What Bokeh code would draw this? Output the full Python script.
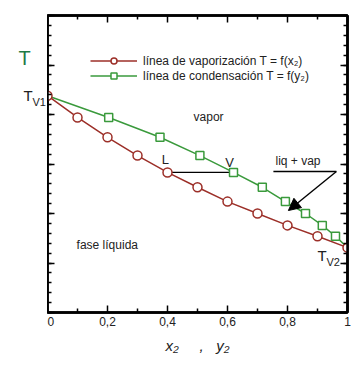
from bokeh.plotting import figure
from bokeh.layouts import row
from bokeh.models import (Range1d, FixedTicker, LinearAxis, Label, Arrow, NormalHead,
                          Legend, LegendItem)
from bokeh.core.properties import value
from bokeh.embed import file_html
from bokeh.resources import INLINE

# ---- data ----
x_liq = [0.0, 0.1, 0.2, 0.3, 0.4, 0.5, 0.6, 0.7, 0.8, 0.9, 1.0]
T_vals = [4.38, 3.94, 3.54, 3.17, 2.83, 2.53, 2.24, 2.00, 1.76, 1.54, 1.31]
y_vap = [0.0, 0.204, 0.375, 0.508, 0.62, 0.716, 0.793, 0.86, 0.916, 0.96, 1.0]
tie_index = 4
x_ticks = [0, 0.2, 0.4, 0.6, 0.8, 1.0]
x_tick_labels = ["0", "0,2", "0,4", "0,6", "0,8", "1"]
y_ticks = [0, 1, 2, 3, 4, 5, 6]

# ---- styles ----
RED = "#9c2f28"
GREEN = "#3a9a3c"
TGREEN = "#1f7a45"
TXT = "#222222"
FONT = "Liberation Sans"
TOP, BOTTOM = 15, 54
H = 366

p = figure(width=314, height=H, output_backend="svg", toolbar_location=None,
           x_range=Range1d(0, 1), y_range=Range1d(0, 6),
           min_border_left=0, min_border_right=14, min_border_top=TOP, min_border_bottom=BOTTOM,
           x_axis_location=None, y_axis_location=None)
p.grid.visible = False
p.outline_line_color = "black"
p.outline_line_width = 2.5
p.background_fill_color = "white"
p.border_fill_color = "white"

xt = FixedTicker(ticks=x_ticks, minor_ticks=[0.1, 0.3, 0.5, 0.7, 0.9])
yt = FixedTicker(ticks=y_ticks, minor_ticks=[i * 0.2 for i in range(31)])

bottom = LinearAxis(ticker=xt)
top = LinearAxis(ticker=xt)
left = LinearAxis(ticker=yt)
right = LinearAxis(ticker=yt)
p.add_layout(bottom, "below")
p.add_layout(top, "above")
p.add_layout(left, "left")
p.add_layout(right, "right")

for ax in [bottom, top, left, right]:
    ax.axis_line_width = 2.5
    ax.axis_line_color = "black"
    ax.major_tick_in = 7
    ax.major_tick_out = 0
    ax.minor_tick_in = 4
    ax.minor_tick_out = 0
    ax.major_tick_line_width = 1.5
    ax.minor_tick_line_width = 1.5
    ax.major_tick_line_color = "black"
    ax.minor_tick_line_color = "black"

top.major_label_overrides = {t: "" for t in x_ticks}
left.major_label_overrides = {t: "" for t in y_ticks}
right.major_label_overrides = {t: "" for t in y_ticks}
for ax in [top, left, right]:
    ax.major_label_standoff = 0

bottom.major_label_overrides = {t: l for t, l in zip(x_ticks, x_tick_labels)}
bottom.major_label_text_font = FONT
bottom.major_label_text_font_size = "12px"
bottom.major_label_text_color = TXT
bottom.major_label_standoff = 4
NB = "\u00a0"
bottom.axis_label = "x₂" + NB * 5 + "," + NB * 3 + "y₂"
bottom.axis_label_text_font = FONT
bottom.axis_label_text_font_size = "15px"
bottom.axis_label_text_font_style = "italic"
bottom.axis_label_text_color = TXT
bottom.axis_label_standoff = 8

# ---- glyphs ----
g_line = p.line(y_vap, T_vals, line_color=GREEN, line_width=1.5)
p.segment(x0=[x_liq[tie_index]], y0=[T_vals[tie_index]],
          x1=[y_vap[tie_index]], y1=[T_vals[tie_index]], line_color="black", line_width=1.4)
r_line = p.line(x_liq, T_vals, line_color=RED, line_width=1.5)
g_sq = p.scatter(y_vap[1:-1], T_vals[1:-1], marker="square", size=8,
                 line_color=GREEN, fill_color="white", line_width=1.5)
r_circ = p.scatter(x_liq, T_vals, marker="circle", size=9,
                   line_color=RED, fill_color="white", line_width=1.5)

legend = Legend(items=[
    LegendItem(label="línea de vaporización T = f(x₂)", renderers=[r_line, r_circ]),
    LegendItem(label="línea de condensación T = f(y₂)", renderers=[g_line, g_sq]),
], location=(43, 229), padding=0, margin=0, spacing=0,
    glyph_width=47, glyph_height=15, label_height=15, label_standoff=6,
    label_text_font=FONT, label_text_font_size="12px", label_text_color=TXT,
    border_line_color=None, background_fill_alpha=0)
p.add_layout(legend, "center")

# ---- annotations inside the frame ----
def lab(x, y, text, size="12px", color=TXT, align="left", style="normal"):
    p.add_layout(Label(x=x, y=y, text=text, text_font=FONT, text_font_size=size,
                       text_color=color, text_align=align, text_baseline="middle",
                       text_font_style=style))

lab(0.900, 1.15, "T", size="15px")
lab(0.930, 1.03, "V2", size="11px")
lab(0.393, 3.10, "L", size="13px", align="center")
lab(0.607, 3.04, "V", size="13px", align="center")
lab(0.487, 3.95, "vapor")
lab(0.760, 3.07, "liq + vap")
lab(0.097, 1.37, "fase líquida")

p.add_layout(Arrow(end=None, x_start=0.753, y_start=2.85, x_end=0.963, y_end=2.85,
                   line_color="black", line_width=1.4))
p.add_layout(Arrow(end=NormalHead(size=12, fill_color="black", line_color="black"),
                   x_start=0.963, y_start=2.85, x_end=0.803, y_end=2.06,
                   line_color="black", line_width=1.4))

# ---- left strip holding the texts left of the axis ----
q = figure(width=47, height=H, output_backend="svg", toolbar_location=None,
           x_range=Range1d(0, 47), y_range=Range1d(0, 6),
           min_border_left=0, min_border_right=0, min_border_top=TOP, min_border_bottom=BOTTOM,
           x_axis_location=None, y_axis_location=None)
q.grid.visible = False
q.outline_line_color = None
q.background_fill_color = "white"
q.border_fill_color = "white"
q.text(x=[24], y=[5.15], text=["T"], text_font=value(FONT), text_font_size="20px",
       text_color=TGREEN, text_align="center", text_baseline="middle")
q.text(x=[23], y=[4.38], text=["T"], text_font=value(FONT), text_font_size="15px",
       text_color=TXT, text_align="left", text_baseline="middle")
q.text(x=[32], y=[4.26], text=["V1"], text_font=value(FONT), text_font_size="11px",
       text_color=TXT, text_align="left", text_baseline="middle")

layout = row(q, p, spacing=0)
open("out.html", "w").write(file_html(layout, INLINE))
